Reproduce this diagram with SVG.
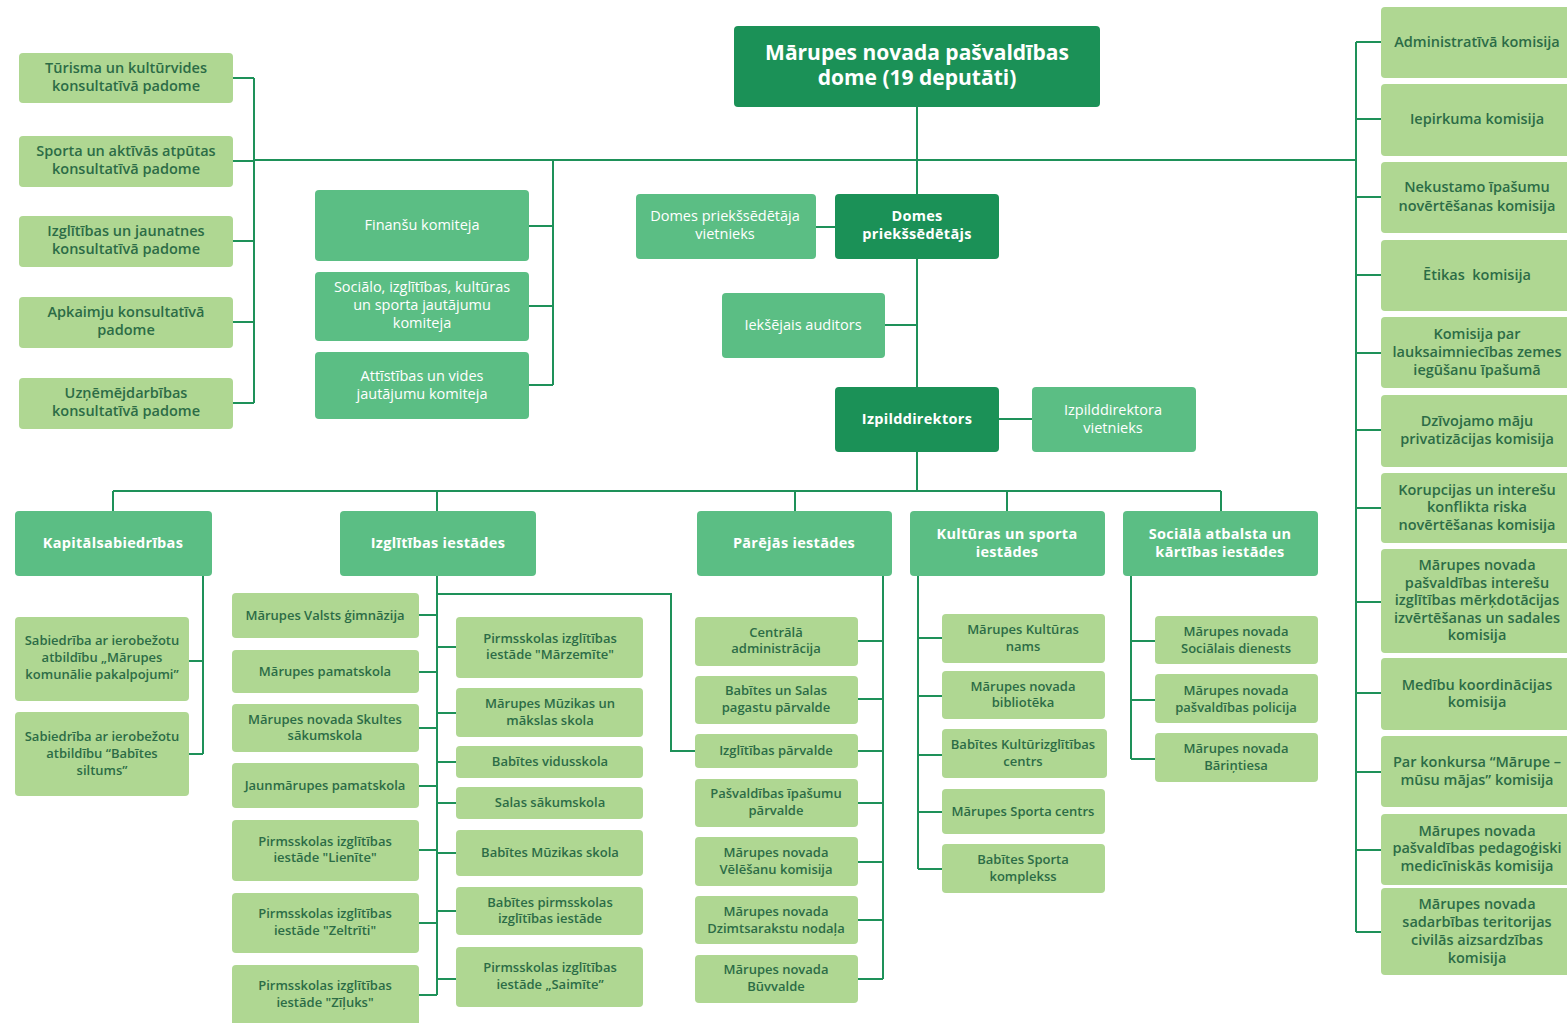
<svg xmlns="http://www.w3.org/2000/svg" width="1567" height="1023" viewBox="0 0 1567 1023">
<style>
.dk{fill:#1B9157}
.md{fill:#5BBE84}
.lt{fill:#AFD792}
text{font-family:"Open Sans","Liberation Sans",sans-serif;text-anchor:middle}
.ttl{fill:#fff;font-size:21px;font-weight:bold}
.wb{fill:#fff;font-size:14.5px;font-weight:bold;letter-spacing:0.3px}
.wn{fill:#fff;font-size:14.5px}
.dc{fill:#2C6C46;font-size:14.5px;font-weight:600}
.dr{fill:#2C6C46;font-size:14.5px;font-weight:600}
.ds{fill:#2C6C46;font-size:13px;font-weight:600}
.con{fill:none;stroke:#1E9159;stroke-width:2}
</style>
<rect width="1567" height="1023" fill="#fff"/>
<g id="connectors" class="con">
<path d="M917 107V491M254 160H1356"/>
<path d="M233 78H254M233 161H254M233 241H254M233 322H254M233 403H254M254 78V403"/>
<path d="M529 226H553M529 306H553M529 385H553M553 160V385"/>
<path d="M815 227H835M885 325H917M998 419H1032"/>
<path d="M1356 42V932M1356 42H1381M1356 119H1381M1356 197H1381M1356 275H1381M1356 353H1381M1356 430H1381M1356 508H1381M1356 602H1381M1356 693H1381M1356 772H1381M1356 850H1381M1356 932H1381"/>
<path d="M113 491H1221M113 491V511M437 491V511M795 491V511M1007 491V511M1221 491V511"/>
<path d="M203 576V754M189 661H203M189 754H203"/>
<path d="M437 576V995M419 615H437M419 672H437M419 728H437M419 786H437M419 850H437M419 923H437M419 995H437M437 647H456M437 713H456M437 762H456M437 803H456M437 853H456M437 911H456M437 979H456"/>
<path d="M437 594H671V751H695"/>
<path d="M883 576V979M858 641H883M858 699H883M858 751H883M858 803H883M858 862H883M858 920H883M858 979H883"/>
<path d="M918 576V869M918 638H942M918 696H942M918 755H942M918 812H942M918 869H942"/>
<path d="M1131 576V759M1131 641H1155M1131 700H1155M1131 759H1155"/>
</g>

<g id="dome"><rect class="dk" x="734" y="26" width="366" height="81" rx="4"/><text class="ttl"><tspan x="917" y="60">Mārupes novada pašvaldības</tspan><tspan x="917" y="85">dome (19 deputāti)</tspan></text></g>

<g id="c-turisma"><rect class="lt" x="19" y="53" width="214" height="50" rx="4"/><text class="dc"><tspan x="126" y="73">Tūrisma un kultūrvides</tspan><tspan x="126" y="91">konsultatīvā padome</tspan></text></g>
<g id="c-sporta"><rect class="lt" x="19" y="136" width="214" height="51" rx="4"/><text class="dc"><tspan x="126" y="156">Sporta un aktīvās atpūtas</tspan><tspan x="126" y="174">konsultatīvā padome</tspan></text></g>
<g id="c-izglitibas"><rect class="lt" x="19" y="216" width="214" height="51" rx="4"/><text class="dc"><tspan x="126" y="236">Izglītības un jaunatnes</tspan><tspan x="126" y="254">konsultatīvā padome</tspan></text></g>
<g id="c-apkaimju"><rect class="lt" x="19" y="297" width="214" height="51" rx="4"/><text class="dc"><tspan x="126" y="317">Apkaimju konsultatīvā</tspan><tspan x="126" y="335">padome</tspan></text></g>
<g id="c-uznem"><rect class="lt" x="19" y="378" width="214" height="51" rx="4"/><text class="dc"><tspan x="126" y="398">Uzņēmējdarbības</tspan><tspan x="126" y="416">konsultatīvā padome</tspan></text></g>

<g id="k-finansu"><rect class="md" x="315" y="190" width="214" height="71" rx="4"/><text class="wn"><tspan x="422" y="230">Finanšu komiteja</tspan></text></g>
<g id="k-socialo"><rect class="md" x="315" y="272" width="214" height="69" rx="4"/><text class="wn"><tspan x="422" y="292">Sociālo, izglītības, kultūras</tspan><tspan x="422" y="310">un sporta jautājumu</tspan><tspan x="422" y="328">komiteja</tspan></text></g>
<g id="k-attistibas"><rect class="md" x="315" y="352" width="214" height="67" rx="4"/><text class="wn"><tspan x="422" y="381">Attīstības un vides</tspan><tspan x="422" y="399">jautājumu komiteja</tspan></text></g>

<g id="vietnieks"><rect class="md" x="636" y="194" width="180" height="65" rx="4"/><text class="wn"><tspan x="725" y="221">Domes priekšsēdētāja</tspan><tspan x="725" y="239">vietnieks</tspan></text></g>
<g id="priekssedetajs"><rect class="dk" x="835" y="194" width="164" height="65" rx="4"/><text class="wb"><tspan x="917" y="221">Domes</tspan><tspan x="917" y="239">priekšsēdētājs</tspan></text></g>
<g id="auditors"><rect class="md" x="722" y="293" width="163" height="65" rx="4"/><text class="wn"><tspan x="803" y="330">Iekšējais auditors</tspan></text></g>
<g id="izpilddirektors"><rect class="dk" x="835" y="387" width="164" height="65" rx="4"/><text class="wb"><tspan x="917" y="424">Izpilddirektors</tspan></text></g>
<g id="izp-vietnieks"><rect class="md" x="1032" y="387" width="164" height="65" rx="4"/><text class="wn"><tspan x="1113" y="415">Izpilddirektora</tspan><tspan x="1113" y="433">vietnieks</tspan></text></g>

<g id="r-admin"><rect class="lt" x="1381" y="7" width="190" height="71" rx="4"/><text class="dr"><tspan x="1477" y="47">Administratīvā komisija</tspan></text></g>
<g id="r-iepirkuma"><rect class="lt" x="1381" y="84" width="190" height="72" rx="4"/><text class="dr"><tspan x="1477" y="124">Iepirkuma komisija</tspan></text></g>
<g id="r-nekustamo"><rect class="lt" x="1381" y="162" width="190" height="71" rx="4"/><text class="dr"><tspan x="1477" y="192">Nekustamo īpašumu</tspan><tspan x="1477" y="211">novērtēšanas komisija</tspan></text></g>
<g id="r-etikas"><rect class="lt" x="1381" y="240" width="190" height="71" rx="4"/><text class="dr" xml:space="preserve"><tspan x="1477" y="280">Ētikas  komisija</tspan></text></g>
<g id="r-lauks"><rect class="lt" x="1381" y="317" width="190" height="71" rx="4"/><text class="dr"><tspan x="1477" y="339">Komisija par</tspan><tspan x="1477" y="357">lauksaimniecības zemes</tspan><tspan x="1477" y="375">iegūšanu īpašumā</tspan></text></g>
<g id="r-dzivojamo"><rect class="lt" x="1381" y="395" width="190" height="72" rx="4"/><text class="dr"><tspan x="1477" y="426">Dzīvojamo māju</tspan><tspan x="1477" y="444">privatizācijas komisija</tspan></text></g>
<g id="r-korupcijas"><rect class="lt" x="1381" y="473" width="190" height="70" rx="4"/><text class="dr"><tspan x="1477" y="495">Korupcijas un interešu</tspan><tspan x="1477" y="512">konflikta riska</tspan><tspan x="1477" y="530">novērtēšanas komisija</tspan></text></g>
<g id="r-interesu"><rect class="lt" x="1381" y="549" width="190" height="104" rx="4"/><text class="dr"><tspan x="1477" y="570">Mārupes novada</tspan><tspan x="1477" y="588">pašvaldības interešu</tspan><tspan x="1477" y="605">izglītības mērķdotācijas</tspan><tspan x="1477" y="623">izvērtēšanas un sadales</tspan><tspan x="1477" y="640">komisija</tspan></text></g>
<g id="r-medibu"><rect class="lt" x="1381" y="658" width="190" height="72" rx="4"/><text class="dr"><tspan x="1477" y="690">Medību koordinācijas</tspan><tspan x="1477" y="707">komisija</tspan></text></g>
<g id="r-konkursa"><rect class="lt" x="1381" y="736" width="190" height="71" rx="4"/><text class="dr"><tspan x="1477" y="767">Par konkursa “Mārupe –</tspan><tspan x="1477" y="785">mūsu mājas” komisija</tspan></text></g>
<g id="r-pedag"><rect class="lt" x="1381" y="814" width="190" height="71" rx="4"/><text class="dr"><tspan x="1477" y="836">Mārupes novada</tspan><tspan x="1477" y="853">pašvaldības pedagoģiski</tspan><tspan x="1477" y="871">medicīniskās komisija</tspan></text></g>
<g id="r-civilas"><rect class="lt" x="1381" y="888" width="190" height="87" rx="4"/><text class="dr"><tspan x="1477" y="909">Mārupes novada</tspan><tspan x="1477" y="927">sadarbības teritorijas</tspan><tspan x="1477" y="945">civilās aizsardzības</tspan><tspan x="1477" y="963">komisija</tspan></text></g>

<g id="h-kapital"><rect class="md" x="15" y="511" width="197" height="65" rx="4"/><text class="wb"><tspan x="113" y="548">Kapitālsabiedrības</tspan></text></g>
<g id="h-izglitibas"><rect class="md" x="340" y="511" width="196" height="65" rx="4"/><text class="wb"><tspan x="438" y="548">Izglītības iestādes</tspan></text></g>
<g id="h-parejas"><rect class="md" x="697" y="511" width="195" height="65" rx="4"/><text class="wb"><tspan x="794" y="548">Pārējās iestādes</tspan></text></g>
<g id="h-kulturas"><rect class="md" x="910" y="511" width="195" height="65" rx="4"/><text class="wb"><tspan x="1007" y="539">Kultūras un sporta</tspan><tspan x="1007" y="557">iestādes</tspan></text></g>
<g id="h-sociala"><rect class="md" x="1123" y="511" width="195" height="65" rx="4"/><text class="wb"><tspan x="1220" y="539">Sociālā atbalsta un</tspan><tspan x="1220" y="557">kārtības iestādes</tspan></text></g>

<g id="sia-komunalie"><rect class="lt" x="15" y="617" width="174" height="84" rx="4"/><text class="ds"><tspan x="102" y="645">Sabiedrība ar ierobežotu</tspan><tspan x="102" y="662">atbildību „Mārupes</tspan><tspan x="102" y="679">komunālie pakalpojumi”</tspan></text></g>
<g id="sia-siltums"><rect class="lt" x="15" y="712" width="174" height="84" rx="4"/><text class="ds"><tspan x="102" y="741">Sabiedrība ar ierobežotu</tspan><tspan x="102" y="758">atbildību “Babītes</tspan><tspan x="102" y="775">siltums”</tspan></text></g>

<g id="e-gimnazija"><rect class="lt" x="232" y="593" width="187" height="45" rx="4"/><text class="ds"><tspan x="325" y="620">Mārupes Valsts ģimnāzija</tspan></text></g>
<g id="e-pamatskola"><rect class="lt" x="232" y="650" width="187" height="43" rx="4"/><text class="ds"><tspan x="325" y="676">Mārupes pamatskola</tspan></text></g>
<g id="e-skultes"><rect class="lt" x="232" y="704" width="187" height="48" rx="4"/><text class="ds"><tspan x="325" y="724">Mārupes novada Skultes</tspan><tspan x="325" y="740">sākumskola</tspan></text></g>
<g id="e-jaunmarupes"><rect class="lt" x="232" y="763" width="187" height="45" rx="4"/><text class="ds"><tspan x="325" y="790">Jaunmārupes pamatskola</tspan></text></g>
<g id="e-lienite"><rect class="lt" x="232" y="820" width="187" height="61" rx="4"/><text class="ds"><tspan x="325" y="846">Pirmsskolas izglītības</tspan><tspan x="325" y="862">iestāde "Lienīte"</tspan></text></g>
<g id="e-zeltriti"><rect class="lt" x="232" y="893" width="187" height="60" rx="4"/><text class="ds"><tspan x="325" y="918">Pirmsskolas izglītības</tspan><tspan x="325" y="935">iestāde "Zeltrīti"</tspan></text></g>
<g id="e-ziluks"><rect class="lt" x="232" y="965" width="187" height="64" rx="4"/><text class="ds"><tspan x="325" y="990">Pirmsskolas izglītības</tspan><tspan x="325" y="1007">iestāde "Zīļuks"</tspan></text></g>
<g id="e-marzemite"><rect class="lt" x="456" y="617" width="187" height="61" rx="4"/><text class="ds"><tspan x="550" y="643">Pirmsskolas izglītības</tspan><tspan x="550" y="659">iestāde "Mārzemīte"</tspan></text></g>
<g id="e-muzikas"><rect class="lt" x="456" y="688" width="187" height="49" rx="4"/><text class="ds"><tspan x="550" y="708">Mārupes Mūzikas un</tspan><tspan x="550" y="725">mākslas skola</tspan></text></g>
<g id="e-vidusskola"><rect class="lt" x="456" y="746" width="187" height="32" rx="4"/><text class="ds"><tspan x="550" y="766">Babītes vidusskola</tspan></text></g>
<g id="e-salas"><rect class="lt" x="456" y="787" width="187" height="32" rx="4"/><text class="ds"><tspan x="550" y="807">Salas sākumskola</tspan></text></g>
<g id="e-bab-muzikas"><rect class="lt" x="456" y="830" width="187" height="46" rx="4"/><text class="ds"><tspan x="550" y="857">Babītes Mūzikas skola</tspan></text></g>
<g id="e-bab-pirmss"><rect class="lt" x="456" y="887" width="187" height="48" rx="4"/><text class="ds"><tspan x="550" y="907">Babītes pirmsskolas</tspan><tspan x="550" y="923">izglītības iestāde</tspan></text></g>
<g id="e-saimite"><rect class="lt" x="456" y="947" width="187" height="60" rx="4"/><text class="ds"><tspan x="550" y="972">Pirmsskolas izglītības</tspan><tspan x="550" y="989">iestāde „Saimīte”</tspan></text></g>

<g id="p-centrala"><rect class="lt" x="695" y="617" width="163" height="49" rx="4"/><text class="ds"><tspan x="776" y="637">Centrālā</tspan><tspan x="776" y="653">administrācija</tspan></text></g>
<g id="p-pagastu"><rect class="lt" x="695" y="676" width="163" height="48" rx="4"/><text class="ds"><tspan x="776" y="695">Babītes un Salas</tspan><tspan x="776" y="712">pagastu pārvalde</tspan></text></g>
<g id="p-izgl-parvalde"><rect class="lt" x="695" y="734" width="163" height="34" rx="4"/><text class="ds"><tspan x="776" y="755">Izglītības pārvalde</tspan></text></g>
<g id="p-ipasumu"><rect class="lt" x="695" y="779" width="163" height="48" rx="4"/><text class="ds"><tspan x="776" y="798">Pašvaldības īpašumu</tspan><tspan x="776" y="815">pārvalde</tspan></text></g>
<g id="p-velesanu"><rect class="lt" x="695" y="837" width="163" height="49" rx="4"/><text class="ds"><tspan x="776" y="857">Mārupes novada</tspan><tspan x="776" y="874">Vēlēšanu komisija</tspan></text></g>
<g id="p-dzimts"><rect class="lt" x="695" y="896" width="163" height="48" rx="4"/><text class="ds"><tspan x="776" y="916">Mārupes novada</tspan><tspan x="776" y="933">Dzimtsarakstu nodaļa</tspan></text></g>
<g id="p-buvvalde"><rect class="lt" x="695" y="955" width="163" height="48" rx="4"/><text class="ds"><tspan x="776" y="974">Mārupes novada</tspan><tspan x="776" y="991">Būvvalde</tspan></text></g>

<g id="k-kult-nams"><rect class="lt" x="942" y="614" width="163" height="49" rx="4"/><text class="ds"><tspan x="1023" y="634">Mārupes Kultūras</tspan><tspan x="1023" y="651">nams</tspan></text></g>
<g id="k-biblioteka"><rect class="lt" x="942" y="671" width="163" height="48" rx="4"/><text class="ds"><tspan x="1023" y="691">Mārupes novada</tspan><tspan x="1023" y="707">bibliotēka</tspan></text></g>
<g id="k-kulturizgl"><rect class="lt" x="942" y="729" width="165" height="49" rx="4"/><text class="ds"><tspan x="1023" y="749">Babītes Kultūrizglītības</tspan><tspan x="1023" y="766">centrs</tspan></text></g>
<g id="k-sporta-centrs"><rect class="lt" x="942" y="789" width="163" height="45" rx="4"/><text class="ds"><tspan x="1023" y="816">Mārupes Sporta centrs</tspan></text></g>
<g id="k-sporta-kompl"><rect class="lt" x="942" y="844" width="163" height="49" rx="4"/><text class="ds"><tspan x="1023" y="864">Babītes Sporta</tspan><tspan x="1023" y="881">komplekss</tspan></text></g>

<g id="s-dienests"><rect class="lt" x="1155" y="616" width="163" height="48" rx="4"/><text class="ds"><tspan x="1236" y="636">Mārupes novada</tspan><tspan x="1236" y="653">Sociālais dienests</tspan></text></g>
<g id="s-policija"><rect class="lt" x="1155" y="674" width="163" height="49" rx="4"/><text class="ds"><tspan x="1236" y="695">Mārupes novada</tspan><tspan x="1236" y="712">pašvaldības policija</tspan></text></g>
<g id="s-barintiesa"><rect class="lt" x="1155" y="733" width="163" height="49" rx="4"/><text class="ds"><tspan x="1236" y="753">Mārupes novada</tspan><tspan x="1236" y="770">Bāriņtiesa</tspan></text></g>
</svg>
